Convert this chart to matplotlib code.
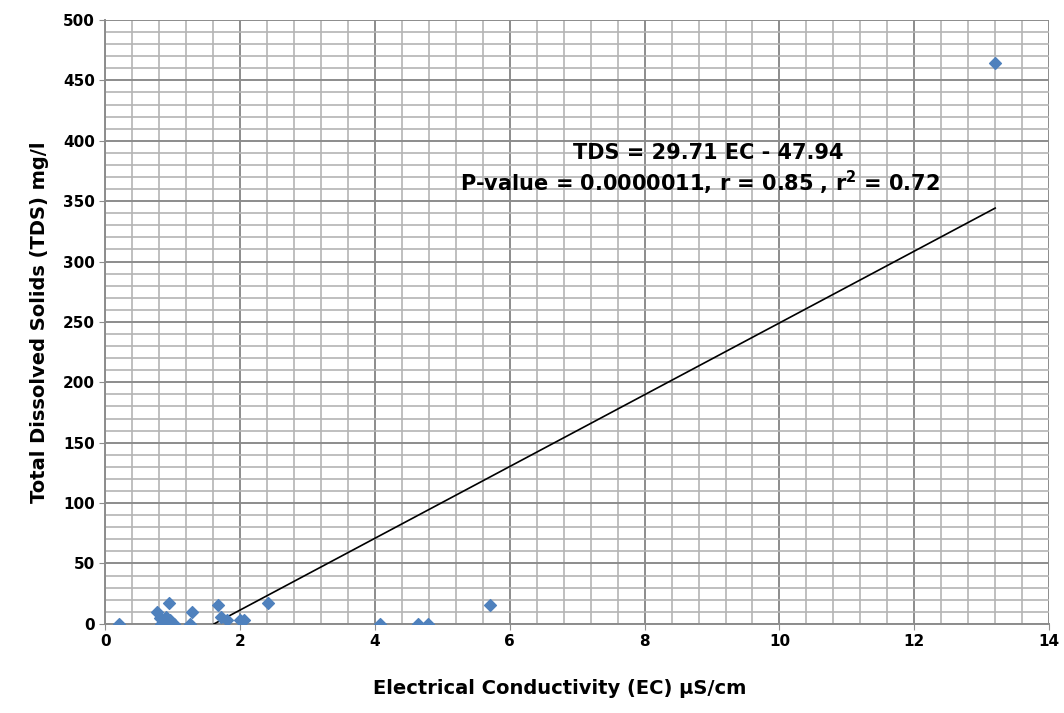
import matplotlib.pyplot as plt
from matplotlib.ticker import MultipleLocator

# EC (uS/cm) and TDS (mg/l) values
ec = [0.2, 0.76, 0.95, 0.81, 0.82, 0.86, 0.9, 0.96, 1.02, 1.29, 1.26,
      1.67, 1.72, 1.8, 2.0, 2.05, 2.41, 4.07, 4.64, 4.79, 5.7, 13.2]
tds = [0, 10, 17, 5, 0, 3, 6, 3, 0, 10, 0,
       16, 6, 3, 3, 3, 17, 0, 0, 0, 16, 464]

slope = 29.71
intercept = -47.94

x_ticks = [0, 2, 4, 6, 8, 10, 12, 14]
y_ticks = [0, 50, 100, 150, 200, 250, 300, 350, 400, 450, 500]

fig = plt.figure(figsize=(10.64, 7.13), dpi=100)
ax = fig.add_axes([0.099, 0.125, 0.887, 0.847])

# trend line drawn from where it crosses zero up to the last point
x0 = -intercept / slope
x1 = max(ec)
ax.plot([x0, x1], [slope * x0 + intercept, slope * x1 + intercept],
        color='black', lw=1.2, zorder=3)

ax.scatter(ec, tds, marker='D', s=36, color='#4F81BD', zorder=4)

ax.set_xlim(0, 14)
ax.set_ylim(0, 500)
ax.set_xticks(x_ticks)
ax.set_yticks(y_ticks)
ax.xaxis.set_minor_locator(MultipleLocator(0.4))
ax.yaxis.set_minor_locator(MultipleLocator(10))
ax.grid(which='major', color='#8c8c8c', lw=1.4)
ax.grid(which='minor', color='#b4b4b4', lw=1.2)
ax.set_axisbelow(True)
ax.tick_params(which='minor', length=0)
ax.tick_params(which='major', length=4, color='#8c8c8c', labelsize=11)
for lab in ax.get_xticklabels() + ax.get_yticklabels():
    lab.set_fontweight('bold')

for s in ['top', 'right']:
    ax.spines[s].set_visible(False)
for s in ['left', 'bottom']:
    ax.spines[s].set_color('#8c8c8c')
    ax.spines[s].set_linewidth(1.4)

ax.set_xlabel('Electrical Conductivity (EC) µS/cm', fontsize=14,
              fontweight='bold')
ax.xaxis.set_label_coords(0.481, -0.092)
ax.set_ylabel('Total Dissolved Solids (TDS) mg/l', fontsize=14,
              fontweight='bold', labelpad=10)

ax.text(8.94, 390, 'TDS = 29.71 EC - 47.94', fontsize=15, fontweight='bold',
        ha='center', va='center')
ax.text(8.82, 365, 'P-value = 0.0000011, r = 0.85 , r$^\\mathbf{2}$ = 0.72',
        fontsize=15, fontweight='bold', ha='center', va='center')

fig.savefig('out.png', dpi=100)
